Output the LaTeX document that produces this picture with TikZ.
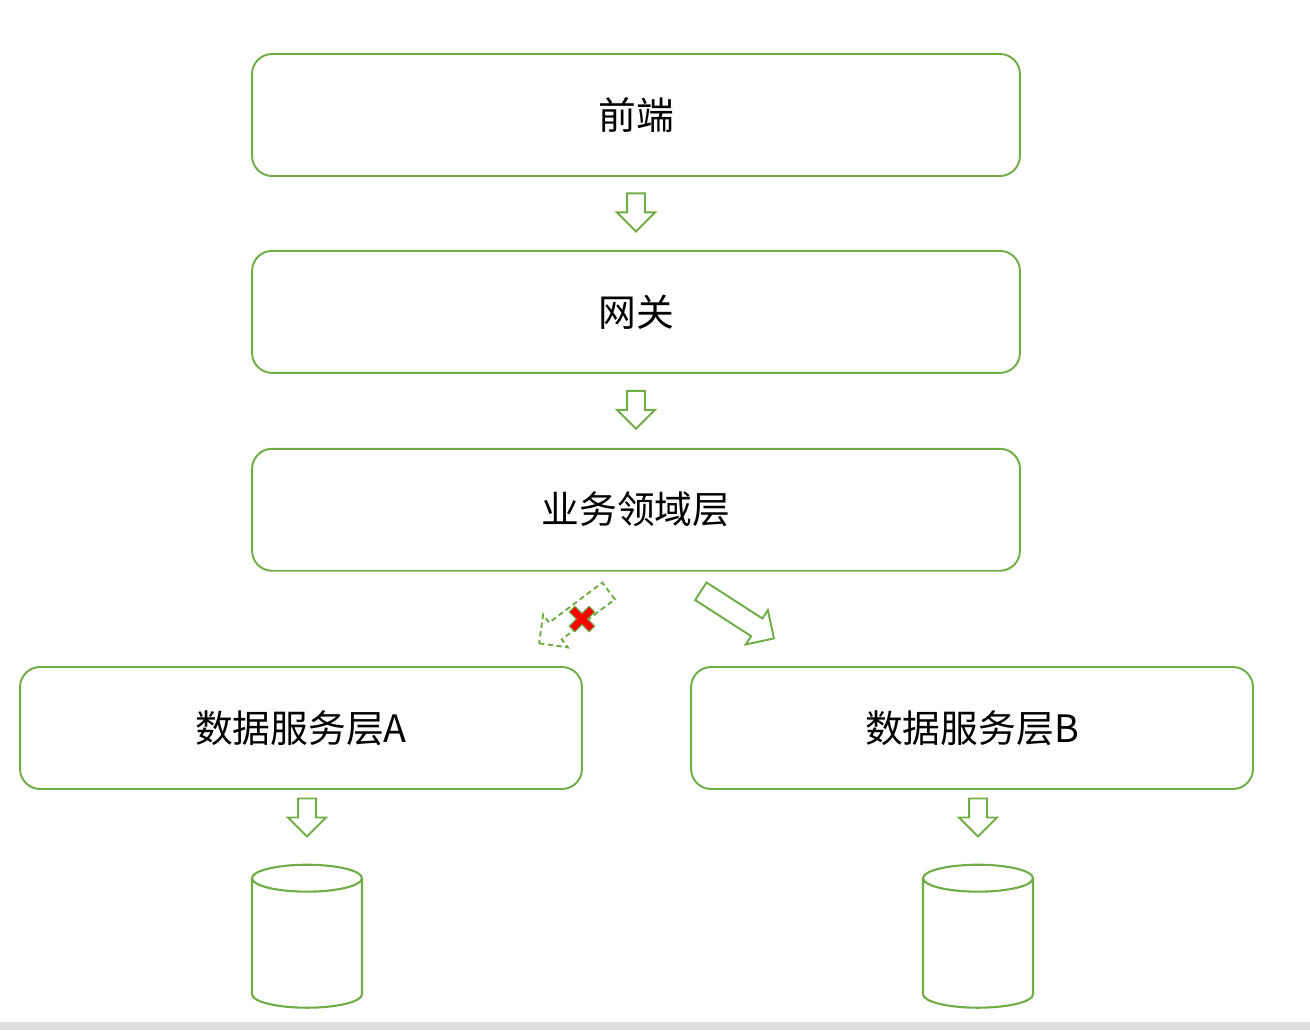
\documentclass[tikz,border=0pt]{standalone}
\usepackage{fontspec}
\setmainfont{Noto Sans CJK SC}
\usetikzlibrary{positioning,shapes.arrows,shapes.geometric,calc}
\definecolor{boxgreen}{RGB}{112,173,71}
\definecolor{stripgray}{RGB}{222,222,222}
\tikzset{
  layer/.style={rectangle,rounded corners=0.4cm,draw=boxgreen,line width=1.1pt,
    minimum width=15.36cm,minimum height=2.44cm,font=\fontsize{21.5}{26}\selectfont},
  datalayer/.style={layer,minimum width=11.24cm},
  blockarrow/.style={single arrow,draw=boxgreen,line width=1.1pt},
  downarrow/.style={blockarrow,rotate=-90,inner sep=0.16cm,
    single arrow head extend=0.2cm,minimum height=0.76cm},
  slantarrow/.style={blockarrow,inner sep=0.19cm,
    single arrow head extend=0.2cm,minimum height=1.74cm},
  database/.style={cylinder,draw=boxgreen,line width=1.2pt,shape border rotate=90,
    aspect=2.3,minimum width=2.2cm,minimum height=2.86cm},
  crossmark/.style={fill=red,draw=boxgreen,line width=0.6pt}
}
\begin{document}
\begin{tikzpicture}[x=0.02cm,y=-0.02cm]
  \useasboundingbox (0,0) rectangle (1310,1030);
  \fill[stripgray] (0,1022) rectangle (1310,1030);

  % layers
  \node[layer] (front) at (636,115) {前端};
  \node[layer] (gate) [below=1.46cm of front] {网关};
  \node[layer] (domain) [below=1.48cm of gate] {业务领域层};
  \node[datalayer] (dataA) at (301,728) {数据服务层A};
  \node[datalayer] (dataB) at (972,728) {数据服务层B};
  \node[database] (dbA) at (307,946.5) {};
  \node[database] (dbB) at (978,946.5) {};

  % arrows between layers
  \node[downarrow] (a1) at ($(front.south)!0.5!(gate.north)+(0,-5.5)$) {};
  \node[downarrow] (a2) at ($(gate.south)!0.5!(domain.north)+(0,-5.5)$) {};
  \node[slantarrow,dash pattern=on 3pt off 2pt,rotate=217] (a3) at (578,614) {};
  \node[slantarrow,rotate=-32.8] (a4) at (733,612) {};
  \node[downarrow] (a5) at (307,813) {};
  \node[downarrow] (a6) at (978,813) {};

  % blocked call
  \draw[crossmark,shift={(582,619)},rotate=45]
    (4,14) -- (4,4) -- (14,4) -- (14,-4) -- (4,-4) -- (4,-14) -- (-4,-14)
    -- (-4,-4) -- (-14,-4) -- (-14,4) -- (-4,4) -- (-4,14) -- cycle;
\end{tikzpicture}
\end{document}
